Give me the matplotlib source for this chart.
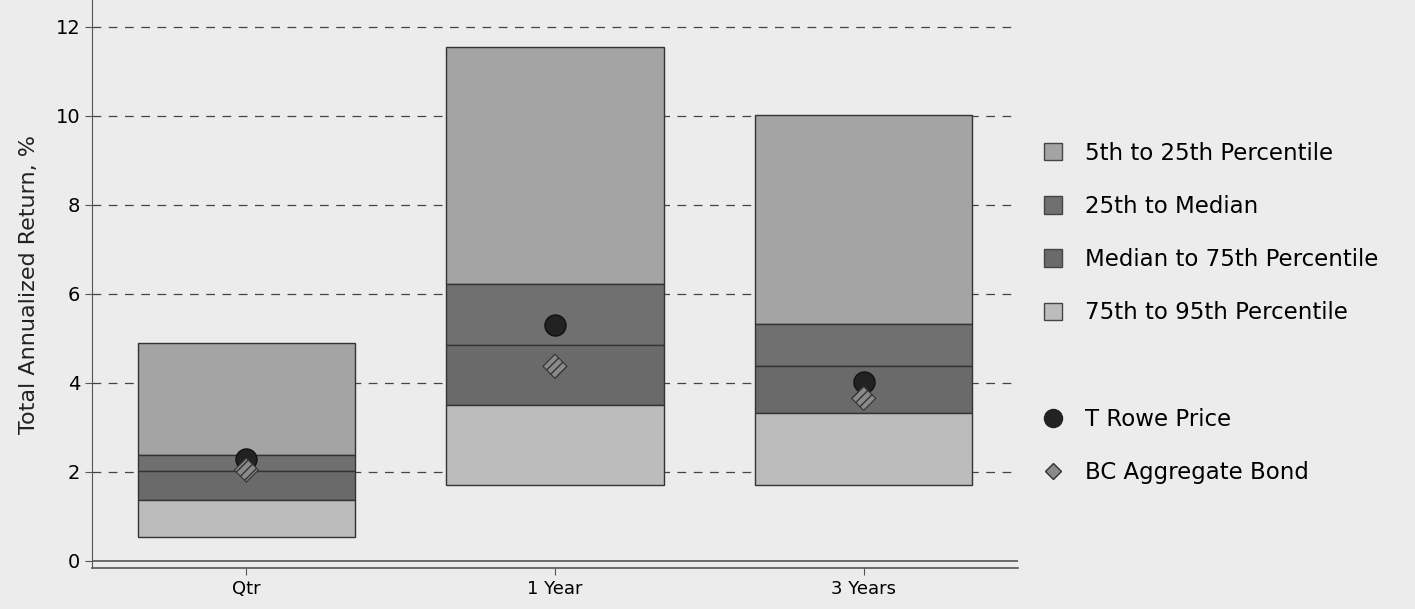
from matplotlib import pyplot as plt
from matplotlib.lines import Line2D
from matplotlib.patches import Patch
import numpy as np

# percentile breakpoints per period
periods = ['Qtr', '1 Year', '3 Years']
p5 = [4.89, 11.55, 10.02]
p25 = [2.38, 6.21, 5.32]
median = [2.02, 4.86, 4.37]
p75 = [1.37, 3.51, 3.32]
p95 = [0.54, 1.70, 1.71]
trowe = [2.28, 5.31, 4.01]
bc_agg = [2.04, 4.37, 3.65]

band_labels = ['5th to 25th Percentile', '25th to Median',
               'Median to 75th Percentile', '75th to 95th Percentile']
band_colors = ['#a4a4a4', '#707070', '#6a6a6a', '#bcbcbc']

plt.rcParams['font.family'] = ['DejaVu Sans']
bg = '#ececec'
fig = plt.figure(figsize=(14.15, 6.09), dpi=100, facecolor=bg)
ax = fig.add_axes([92/1415, 41/609, (1018-92)/1415, (609-41)/609])
ax.set_facecolor(bg)

x = np.arange(len(periods))
width = 0.705
edge = '#333333'
lows = [p25, median, p75, p95]
highs = [p5, p25, median, p75]
for lo, hi, col, lab in zip(lows, highs, band_colors, band_labels):
    lo = np.array(lo)
    hi = np.array(hi)
    ax.bar(x, hi - lo, width, bottom=lo, color=col, edgecolor=edge, linewidth=1.0, zorder=2)

ax.scatter(x, trowe, s=230, color='#222222', edgecolor='#111111', zorder=4)
ax.scatter(x, bc_agg, s=150, marker='D', color='#8a8a8a', edgecolor='#333333',
           hatch='////', linewidth=0.8, zorder=5)

ax.set_xlim(-0.5, 2.5)
ax.set_ylim(-0.16, 12.6)
ax.set_yticks(np.arange(0, 13, 2))
ax.set_xticks(x)
ax.set_xticklabels(periods, fontsize=13)
ax.tick_params(axis='y', labelsize=14, length=5, color='#555555')
ax.tick_params(axis='x', length=5, color='#555555')
for yv in range(2, 13, 2):
    ax.axhline(yv, color='#444444', linestyle=(0, (7, 6)), linewidth=0.9, zorder=1)
ax.axhline(0, color='#555555', linewidth=1.2, zorder=1)
ax.spines['top'].set_visible(False)
ax.spines['right'].set_visible(False)
ax.spines['left'].set_color('#555555')
ax.spines['bottom'].set_color('#555555')
ax.spines['bottom'].set_linewidth(1.2)
ax.set_ylabel('Total Annualized Return, %', fontsize=16, color='#222222', labelpad=12)

handles = [Patch(facecolor=c, edgecolor='#444444') for c in band_colors]
handles.append(Line2D([], [], linestyle='none'))
handles.append(Line2D([], [], marker='o', linestyle='none', markersize=13,
                      color='#222222'))
handles.append(Line2D([], [], marker='D', linestyle='none', markersize=8,
                      markerfacecolor='#8a8a8a', markeredgecolor='#333333'))
labels = band_labels + ['', 'T Rowe Price', 'BC Aggregate Bond']
leg = fig.legend(handles, labels, loc='upper left', bbox_to_anchor=(1023/1415, 1 - 121/609),
                 frameon=False, fontsize=16.5, labelspacing=1.32, handlelength=0.8,
                 handleheight=0.8, handletextpad=1.0)

fig.savefig('out.png', dpi=100, facecolor=bg)
